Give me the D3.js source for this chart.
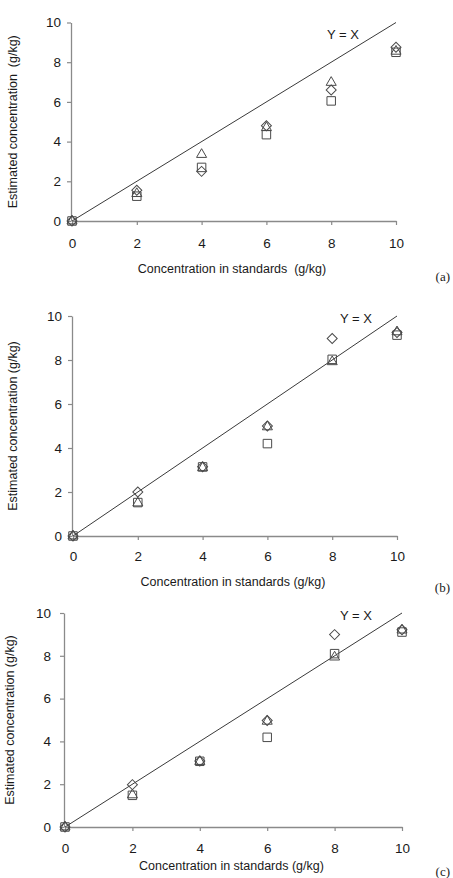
<!DOCTYPE html>
<html><head><meta charset="utf-8">
<script src="https://cdn.jsdelivr.net/npm/d3@7"></script>
<style>
html,body{margin:0;padding:0;background:#fff;}
svg{display:block;}
text{font-family:"Liberation Sans",Arial,sans-serif;}
</style></head>
<body>
<svg id="chart" width="453" height="878"></svg>
<script>
// Concentration in standards (g/kg)
const standards = [0, 2, 4, 6, 8, 10];
const tickValues = [0, 2, 4, 6, 8, 10];

// Panel (a)
const diamondA  = [0, 1.55, 2.5, 4.8, 6.6, 8.75];
const squareA   = [0, 1.25, 2.7, 4.35, 6.05, 8.5];
const triangleA = [0, 1.38, 3.35, 4.7, 6.98, 8.55];

// Panel (b)
const diamondB  = [0, 2.0, 3.15, 5.0, 8.98, 9.25];
const squareB   = [0, 1.52, 3.14, 4.2, 8.03, 9.13];
const triangleB = [0, 1.5, 3.1, 4.96, 7.92, 9.28];

// Panel (c)
const diamondC  = [0, 1.98, 3.08, 4.98, 8.99, 9.22];
const squareC   = [0, 1.48, 3.07, 4.19, 8.1, 9.11];
const triangleC = [0, 1.5, 3.06, 4.94, 7.94, 9.2];

const xTitles = ["Concentration in standards  (g/kg)", "Concentration in standards (g/kg)", "Concentration in standards (g/kg)"];
const yTitles = ["Estimated concentration  (g/kg)", "Estimated concentration (g/kg)", "Estimated concentration (g/kg)"];
const panelTags = ["(a)", "(b)", "(c)"];
const refLabel = "Y = X";

const panels = [
  {d: diamondA, s: squareA, t: triangleA, x0: 72, x1: 396, y0: 221, y1: 22.5, xPad: 13, yPad: 6,
   xtY: 273, ytX: 13, tagY: 281, refX: 327, refY: 39},
  {d: diamondB, s: squareB, t: triangleB, x0: 73, x1: 397, y0: 536, y1: 316, xPad: 11, yPad: 6,
   xtY: 586, ytX: 13, tagY: 592, refX: 340, refY: 323},
  {d: diamondC, s: squareC, t: triangleC, x0: 65, x1: 402, y0: 827, y1: 613, xPad: 12, yPad: 9,
   xtY: 870, ytX: 10, tagY: 876, refX: 340, refY: 620}
];

const svg = d3.select("#chart");
const markerColor = "#4a4a4a";
const axisColor = "#8a8a8a";

panels.forEach((p, i) => {
  const x = d3.scaleLinear().domain([0, 10]).range([p.x0, p.x1]);
  const y = d3.scaleLinear().domain([0, 10]).range([p.y0, p.y1]);
  const g = svg.append("g");

  const xAxis = g.append("g").attr("transform", `translate(0,${p.y0})`)
    .call(d3.axisBottom(x).tickValues(tickValues).tickSize(4).tickPadding(p.xPad).tickSizeOuter(0));
  const yAxis = g.append("g").attr("transform", `translate(${p.x0 - 1},0)`)
    .call(d3.axisLeft(y).tickValues(tickValues).tickSize(4).tickPadding(p.yPad).tickSizeOuter(0));
  [xAxis, yAxis].forEach(a => {
    a.select(".domain").attr("stroke", axisColor).attr("stroke-width", 1.3);
    a.selectAll(".tick line").attr("stroke", axisColor).attr("stroke-width", 1.2);
    a.selectAll(".tick text").attr("fill", "#1a1a1a").style("font-size", "13.5px")
      .style("font-family", '"Liberation Sans",Arial,sans-serif');
  });

  // Y = X reference line
  g.append("line")
    .attr("x1", x(0)).attr("y1", y(0)).attr("x2", x(10)).attr("y2", y(10))
    .attr("stroke", "#3a3a3a").attr("stroke-width", 1);
  g.append("text").attr("x", p.refX).attr("y", p.refY)
    .attr("font-size", 13).attr("fill", "#1a1a1a").text(refLabel);

  const sym = (type, size) => d3.symbol().type(type).size(size)();
  const drawSeries = (vals, type, size, rot) => {
    g.append("g").selectAll("path").data(vals).join("path")
      .attr("d", sym(type, size))
      .attr("transform", (v, k) => `translate(${x(standards[k])},${y(v)}) rotate(${rot})`)
      .attr("fill", "none").attr("stroke", markerColor).attr("stroke-width", 1);
  };
  drawSeries(p.s, d3.symbolSquare, 72, 0);
  drawSeries(p.d, d3.symbolSquare, 50, 45);
  drawSeries(p.t, d3.symbolTriangle, 44, 0);

  // Titles
  g.append("text").attr("x", (p.x0 + p.x1) / 2 - 2).attr("y", p.xtY)
    .attr("text-anchor", "middle").attr("font-size", 12.5).attr("fill", "#1a1a1a")
    .style("white-space", "pre").text(xTitles[i]);
  g.append("text")
    .attr("transform", `translate(${p.ytX + 4},${(p.y0 + p.y1) / 2}) rotate(-90)`)
    .attr("text-anchor", "middle").attr("font-size", 12.5).attr("fill", "#1a1a1a")
    .style("white-space", "pre").text(yTitles[i]);
  g.append("text").attr("x", 450).attr("y", p.tagY).attr("text-anchor", "end")
    .attr("font-size", 13).attr("fill", "#1a1a1a")
    .style("font-family", '"Liberation Serif","Times New Roman",serif').text(panelTags[i]);
});
</script>
</body></html>
